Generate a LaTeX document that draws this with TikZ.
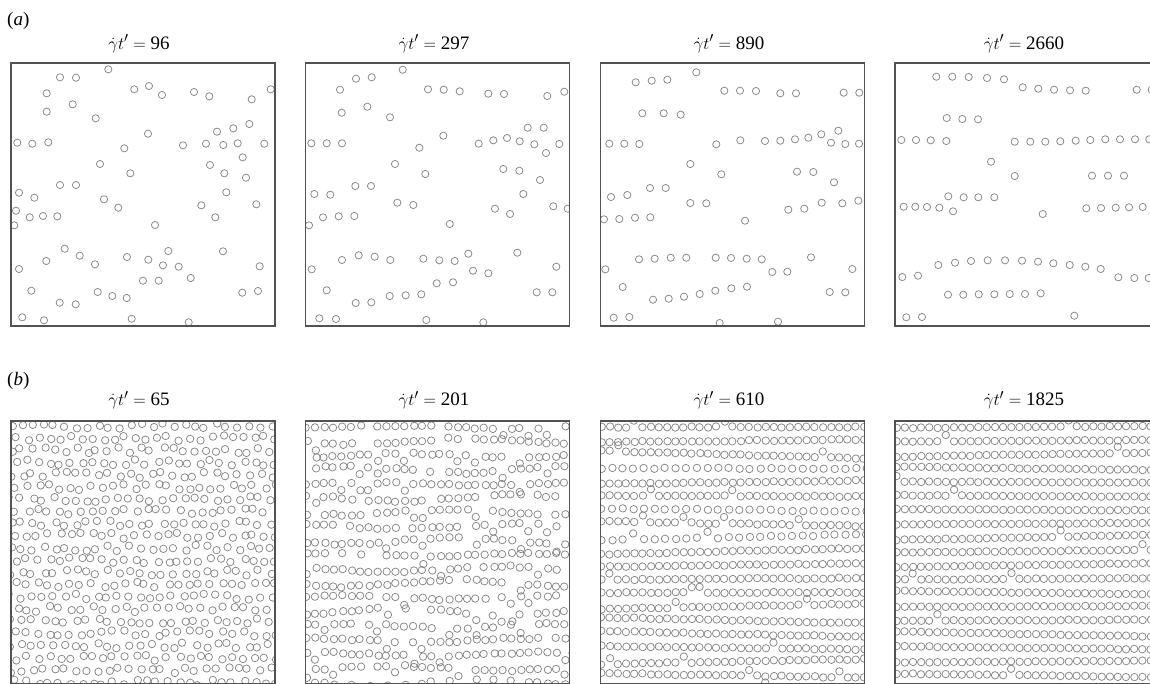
\documentclass[tikz,border=0pt]{standalone}
\usepackage{fontspec}
\setmainfont{Liberation Serif}
\definecolor{bubgray}{gray}{0.52}
\definecolor{framegray}{gray}{0.32}
\newcommand\gtitle[1]{$\dot{\gamma}t'=\mbox{#1}$}
\tikzset{
  bub/.style={draw=bubgray, line width=0.75pt},
  frame/.style={draw=framegray, line width=1.1pt},
  ttl/.style={anchor=base, inner sep=0pt, font=\fontsize{19}{22}\selectfont},
  plabel/.style={anchor=base west, inner sep=0pt, font=\fontsize{19}{22}\selectfont}
}
\begin{document}
\begin{tikzpicture}[x=1pt,y=-1pt]
\useasboundingbox (0,0) rectangle (1150,683);
\fill[white] (0,0) rectangle (1150,683);
% labels
\node[plabel] (la) at (7,25) {(\textit{a})};
\node[plabel] (lb) at (7,385) {(\textit{b})};
% titles
\node[ttl] (t1) at (139,49) {\gtitle{96}};
\node[ttl] (t2) at (434,49) {\gtitle{297}};
\node[ttl] (t3) at (729,49) {\gtitle{890}};
\node[ttl] (t4) at (1024,49) {\gtitle{2660}};
\node[ttl] (t5) at (139,405.7) {\gtitle{65}};
\node[ttl] (t6) at (434,405.7) {\gtitle{201}};
\node[ttl] (t7) at (729,405.7) {\gtitle{610}};
\node[ttl] (t8) at (1024,405.7) {\gtitle{1825}};
% ---------- row (a) ----------
\begin{scope}
\clip (11,63) rectangle (275,326);
\foreach \x/\y in {108.3/69.3,60/77.3,76/77.7,46.7/93.3,134.3/89.3,149/86,162/95,194/92,209.3/96.3,251.7/99.3,270.7/89.3,72.7/104.3,46.7/111.7,95.7/118.3,249.3/124,233.3/128.3,217/131.7,148/133.7,17.3/142.7,32.3/143.7,48.3/142.3,124.3/148.3,183/145.3,206/143.7,223.3/145,237.7/143.3,264.3/143.7,242.7/157.3,100/164,210/165,130.3/173.3,224.3/173.3,246/177.7,60/185,76/185,19/192.7,34.3/197.7,104/199.3,118.3/207.7,226.3/192.3,201.3/205.3,256.3/204.3,16/210.7,29.7/217.3,43/216,57.3/216.3,215.3/217.3,14.3/225.3,155/225,64.7/248.7,79.7/255.7,46.3/261,95/264.3,127/257,148.3/259.7,168.3/251,163/265.3,178.7/266.7,223/251.3,19/269,259.7/266.3,143/280.7,158.7/280.7,190.7/278,31.3/290.7,97.7/292,112.3/296,126.7/298,242.3/292.7,258/291,59.7/302.7,75.7/304.3,22.3/317.3,44/320.3,131.7/318.7,188.7/322.3}
  \draw[bub] (\x,\y) circle[radius=3.6pt];
\end{scope}
\draw[frame] (11,63) rectangle (275,326);
\begin{scope}
\clip (305.7,63) rectangle (569.7,326);
\foreach \x/\y in {402.7/69.7,356/78.7,371.7/77.3,340/89.7,428/89.3,443.7/89.7,459.7/91.3,488.3/93.7,504/94,547.3/96,564.3/91.7,367.3/106.7,341.7/112.7,390/117.3,527.7/127.7,543.7/127.7,443.3/135.7,311.3/143.3,326.7/143.3,342/143.3,419.3/147.7,478.7/143.7,493.3/140.3,507/138,519.7/141.3,534.3/144.3,546/153,559.3/144,395/164,425.3/174,503.3/169,519.3/170.7,540/180,355.3/186,371/186,314.3/194,330.3/194.7,523.3/194,397.3/202.7,413.3/205,495/208.7,510/214,553.3/206.3,567.7/208.7,323/217.3,338.7/216.3,354.3/216,309/225.3,449.7/224,342/260,358.7/255.3,374.7/256.7,390.3/260,423.3/258.7,439.3/260.3,454.7/261,468.3/253.7,517.3/252.7,311.7/269.3,473/270.7,488.3/273.3,556.3/266.7,326.7/290.3,436.7/283.3,453/282.3,536.7/292.3,552.3/292.3,389.7/296,405.7/295.3,421.3/294.3,355.7/303,371.3/302.3,319.3/318.3,336/319,426.3/320,483.3/322.3}
  \draw[bub] (\x,\y) circle[radius=3.6pt];
\end{scope}
\draw[frame] (305.7,63) rectangle (569.7,326);
\begin{scope}
\clip (600.3,63) rectangle (864.3,326);
\foreach \x/\y in {696.3/72.3,635.7/82.3,651.7/80.7,667.3/79.7,724.3/90.7,740/90.7,756/91,780.3/93.3,796/93.3,843.7/92.7,859.3/92.7,642.3/113.3,663.7/113.3,680.7/114.7,609.3/143.7,624.3/143.7,639.3/144,716.3/144.3,740.3/140.3,765/141,780.3/140.7,795/139.3,808.3/137.7,821.3/134.3,838.3/130.7,831/142.7,845.3/144,859/143.7,690.3/164,721.3/174.3,797/171.7,813.3/172,834/182.3,650/188,665.7/188,611/197,627.3/195,690.3/203,706.3/203.3,788.3/209.7,804.3/208.7,821.7/202.7,842.3/203.3,858.3/200.7,604/219.3,619.3/219,635/217.7,650.3/217.3,745/220.7,639/259.3,654.7/258.7,670.7/257.7,686.3/257.7,715.7/257.7,731/258,746.7/258.7,761.7/259.3,811/257.3,605.3/269.3,772.3/272,787.3/271.7,852.3/269,622.7/287,653/299.7,668.7/298.7,684/296.7,699.7/294,715.3/290.7,731.3/288.3,747/286.7,829.7/292,845.3/292.3,613.7/317.7,629.3/317,719.7/323,778/321.7}
  \draw[bub] (\x,\y) circle[radius=3.6pt];
\end{scope}
\draw[frame] (600.3,63) rectangle (864.3,326);
\begin{scope}
\clip (895,63) rectangle (1159,326);
\foreach \x/\y in {936.3/76.7,952.3/76.7,968.7/77,987/78,1004/79.3,1022.7/87.3,1038.3/88.7,1054/89.7,1070/90.3,1085.7/90.7,1136.7/89.7,1151.7/89.7,946.7/118,962.3/119,978/119.3,901.3/140,916/140,930.7/140.3,946.3/141,1014.7/141.7,1030.3/141.7,1045.3/141.7,1060.3/141.3,1075.7/140.7,1090.3/140,1105.3/139.3,1120/139.3,1135/139.3,1149.3/139.3,991/161.7,1014.7/176,1092/175.7,1108/175.7,1124/175.7,948.3/196.3,963.7/197.3,978.3/197.3,994.3/197.3,903.7/206.7,915.3/206.7,927/207,939.3/207.7,953/211.3,1042.7/214,1086.3/208.3,1101/208,1115.7/207.7,1129/207.3,1142.7/207,938.3/265,955/262.7,971/261,987.7/260.3,1005/260.3,1022/260.7,1038/261.7,1053.3/263.3,1069.7/265,1085.3/266.7,1100.7/269,1118.3/277.3,1134.3/278,1148.7/278,902.3/277,918/275.7,948/294.7,963.3/294.7,978.7/294.3,994.3/294.3,1009.7/294,1025/294,1040.7/293.3,906.3/317.3,922/317,1074.3/315.7}
  \draw[bub] (\x,\y) circle[radius=3.6pt];
\end{scope}
\draw[frame] (895,63) rectangle (1159,326);
% ---------- row (b) ----------
% b1: disordered
\begin{scope}
\clip (11,421) rectangle (275,684);
\pgfmathsetseed{11}
\foreach \r in {0,...,21}{
  \foreach \i in {0,...,25}{
    \pgfmathsetmacro\xx{11+\i*10.8+mod(\r,2)*5.4+2.8*rand}
    \pgfmathsetmacro\yy{426+\r*12.2+3.0*rand}
    \draw[bub] (\xx,\yy) circle[radius=3.7pt];
  }
}
\end{scope}
\draw[frame] (11,421) rectangle (275,684);
% b2: wavy partial layers
\begin{scope}
\clip (305.7,421) rectangle (569.7,684);
\pgfmathsetseed{22}
\foreach \r in {0,...,18}{
  \pgfmathsetmacro\ph{360*rnd}
  \pgfmathsetmacro\am{1+2.5*rnd}
  \foreach \i in {0,...,30}{
    \pgfmathsetmacro\xx{306.7+\i*8.9+1.2*rand}
    \pgfmathsetmacro\dd{rnd<0.1 ? 7 : 0}
    \pgfmathsetmacro\yy{427+14.2*\r+\am*sin(\ph+1.6*(\xx-305.7))+1.0*rand+\dd}
    \pgfmathtruncatemacro\kk{rnd<0.1}
    \ifnum\kk=0 \draw[bub] (\xx,\yy) circle[radius=3.7pt];\fi
  }
}
\end{scope}
\draw[frame] (305.7,421) rectangle (569.7,684);
% b3: layers with defects
\begin{scope}
\clip (600.3,421) rectangle (864.3,684);
\pgfmathsetseed{33}
\foreach \r in {0,...,19}{
  \pgfmathsetmacro\sl{0.03*rand}
  \pgfmathsetmacro\sp{rnd<0.2 ? 10.6 : 8.2}
  \foreach \i in {0,...,32}{
    \pgfmathsetmacro\xx{601.5+\i*\sp+0.5*rand}
    \pgfmathsetmacro\dd{rnd<0.04 ? -6 : 0}
    \pgfmathsetmacro\yy{427+13.8*\r+\sl*(\xx-732.3)+0.6*rand+\dd}
    \draw[bub] (\xx,\yy) circle[radius=3.7pt];
  }
}
\end{scope}
\draw[frame] (600.3,421) rectangle (864.3,684);
% b4: clean layers
\begin{scope}
\clip (895,421) rectangle (1159,684);
\pgfmathsetseed{44}
\foreach \r in {0,...,19}{
  \pgfmathsetmacro\sl{0.02*rand}
  \foreach \i in {0,...,32}{
    \pgfmathsetmacro\xx{896.5+\i*8.2+0.3*rand}
    \pgfmathsetmacro\dd{rnd<0.012 ? -6 : 0}
    \pgfmathsetmacro\yy{427+13.8*\r+\sl*(\xx-1027)+0.4*rand+\dd}
    \draw[bub] (\xx,\yy) circle[radius=3.7pt];
  }
}
\end{scope}
\draw[frame] (895,421) rectangle (1159,684);
\end{tikzpicture}
\end{document}
